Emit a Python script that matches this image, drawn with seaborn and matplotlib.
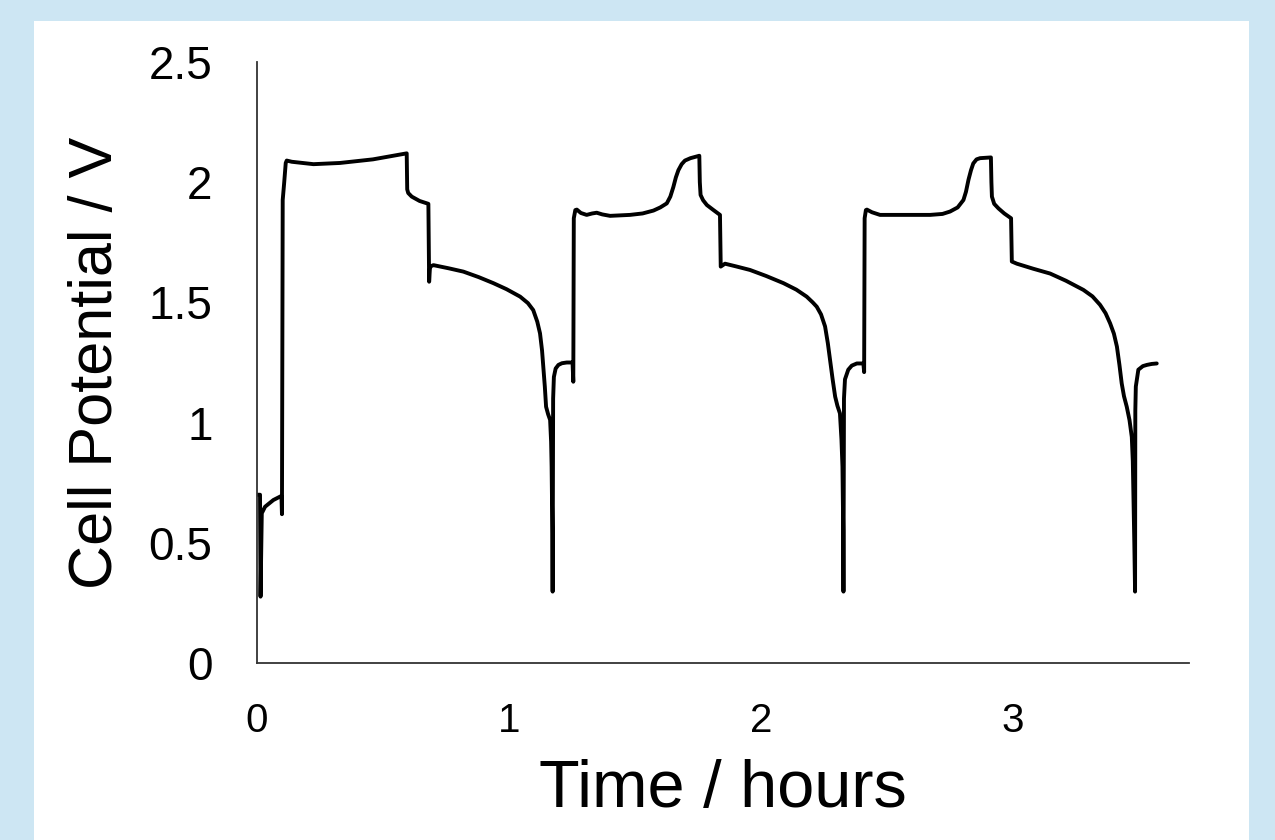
import matplotlib
matplotlib.use("Agg")
import matplotlib.pyplot as plt
import matplotlib.patches as mpatches
import seaborn as sns
import pandas as pd

# ---- data (time in hours, potential in V) ----
time_h = [
    # start / first rest
    0.001, 0.012, 0.014, 0.019, 0.032, 0.065, 0.097, 0.099,
    # first charge
    0.101, 0.102, 0.108, 0.114, 0.118, 0.138, 0.224, 0.329, 0.460, 0.594,
    0.596, 0.600, 0.614, 0.645, 0.680,
    # first discharge
    0.683, 0.686, 0.689, 0.700, 0.760, 0.819, 0.880, 0.938, 0.990, 1.044,
    1.075, 1.096, 1.112, 1.123, 1.131, 1.136, 1.142, 1.147, 1.155, 1.163,
    1.167, 1.169, 1.172, 1.173,
    # rest
    1.175, 1.178, 1.185, 1.196, 1.210, 1.229, 1.252, 1.255,
    # second charge
    1.257, 1.263, 1.269, 1.285, 1.308, 1.330, 1.348, 1.370, 1.401, 1.440,
    1.480, 1.530, 1.573, 1.600, 1.626, 1.640, 1.652, 1.662, 1.672, 1.685,
    1.698, 1.720, 1.755,
    1.757, 1.760, 1.770, 1.785, 1.810, 1.837,
    # second discharge
    1.840, 1.857, 1.900, 1.956, 2.020, 2.089, 2.140, 2.181, 2.205, 2.221,
    2.238, 2.254, 2.265, 2.274, 2.284, 2.294, 2.303, 2.313, 2.319, 2.323,
    2.326, 2.327,
    # rest
    2.329, 2.333, 2.346, 2.360, 2.380, 2.406, 2.409,
    # third charge
    2.411, 2.416, 2.420, 2.440, 2.472, 2.550, 2.671, 2.720, 2.750, 2.780,
    2.803, 2.813, 2.823, 2.833, 2.842, 2.855, 2.869, 2.912,
    2.914, 2.916, 2.925, 2.942, 2.965, 2.992,
    # third discharge
    2.995, 3.015, 3.080, 3.147, 3.210, 3.279, 3.315, 3.345, 3.367, 3.385,
    3.400, 3.412, 3.422, 3.431, 3.440, 3.451, 3.462, 3.471, 3.475, 3.477,
    3.481, 3.484,
    # final rest
    3.485, 3.487, 3.497, 3.515, 3.531, 3.550, 3.570,
]
potential_v = [
    0.700, 0.700, 0.276, 0.623, 0.650, 0.678, 0.695, 0.619,
    1.400, 1.926, 2.000, 2.080, 2.090, 2.085, 2.075, 2.080, 2.095, 2.120,
    1.970, 1.955, 1.940, 1.922, 1.910,
    1.586, 1.640, 1.650, 1.655, 1.642, 1.628, 1.605, 1.580, 1.555, 1.524,
    1.497, 1.468, 1.420, 1.371, 1.300, 1.233, 1.150, 1.066, 1.035, 1.011,
    0.920, 0.817, 0.539, 0.297,
    1.100, 1.190, 1.225, 1.240, 1.247, 1.250, 1.250, 1.170,
    1.850, 1.884, 1.886, 1.872, 1.864, 1.870, 1.873, 1.866, 1.860, 1.862,
    1.864, 1.870, 1.882, 1.895, 1.912, 1.940, 1.980, 2.020, 2.050, 2.075,
    2.090, 2.100, 2.110,
    2.000, 1.947, 1.925, 1.905, 1.885, 1.864,
    1.649, 1.661, 1.650, 1.635, 1.610, 1.580, 1.553, 1.524, 1.500, 1.482,
    1.450, 1.400, 1.330, 1.260, 1.180, 1.108, 1.070, 1.038, 0.930, 0.817,
    0.550, 0.297,
    1.100, 1.180, 1.220, 1.237, 1.246, 1.246, 1.210,
    1.850, 1.884, 1.886, 1.875, 1.864, 1.864, 1.864, 1.868, 1.878, 1.895,
    1.926, 1.960, 2.010, 2.050, 2.078, 2.095, 2.100, 2.103,
    2.000, 1.940, 1.910, 1.891, 1.870, 1.850,
    1.670, 1.661, 1.640, 1.620, 1.590, 1.552, 1.525, 1.490, 1.455, 1.413,
    1.370, 1.316, 1.240, 1.163, 1.110, 1.066, 1.010, 0.940, 0.840, 0.733,
    0.500, 0.297,
    1.050, 1.150, 1.220, 1.235, 1.240, 1.244, 1.246,
]
x_ticks = [0, 1, 2, 3]
x_tick_labels = ["0", "1", "2", "3"]
y_ticks = [0, 0.5, 1, 1.5, 2, 2.5]
y_tick_labels = ["0", "0.5", "1", "1.5", "2", "2.5"]
x_label = "Time / hours"
y_label = "Cell Potential / V"

df = pd.DataFrame({"time": time_h, "potential": potential_v})

sns.set_theme(style="white")
plt.rcParams["font.family"] = ["Liberation Sans", "DejaVu Sans"]

fig = plt.figure(figsize=(12.75, 8.4), dpi=100)
fig.patch.set_facecolor("#cde6f3")
panel = mpatches.Rectangle((34 / 1275, 0), (1249 - 34) / 1275, 1 - 21 / 840,
                           transform=fig.transFigure, facecolor="white",
                           edgecolor="none", zorder=-10)
fig.add_artist(panel)

ax = fig.add_axes([257 / 1275, 1 - 663 / 840, (1189 - 257) / 1275, (663 - 62) / 840])
ax.set_zorder(5)
ax.set_facecolor("none")

sns.lineplot(data=df, x="time", y="potential", sort=False, estimator=None,
             color="black", linewidth=2.8, ax=ax)
ax.lines[0].set_solid_joinstyle("round")
ax.lines[0].set_solid_capstyle("round")

ax.set_xlim(0, 3.698)
ax.set_ylim(0, 2.5)
ax.set_xticks(x_ticks)
ax.set_xticklabels(x_tick_labels)
ax.set_yticks(y_ticks)
ax.set_yticklabels(y_tick_labels)
ax.tick_params(axis="x", length=0, pad=28, labelsize=29, colors="black")
ax.tick_params(axis="y", length=0, pad=32, labelsize=33, colors="black")
ax.set_xlabel(x_label, fontsize=48, labelpad=14, color="black")
ax.set_ylabel(y_label, fontsize=44, labelpad=17, color="black")

for s in ["top", "right"]:
    ax.spines[s].set_visible(False)
for s in ["left", "bottom"]:
    ax.spines[s].set_color("#333333")
    ax.spines[s].set_linewidth(1.3)

fig.savefig("out.png", dpi=100, facecolor=fig.get_facecolor())
